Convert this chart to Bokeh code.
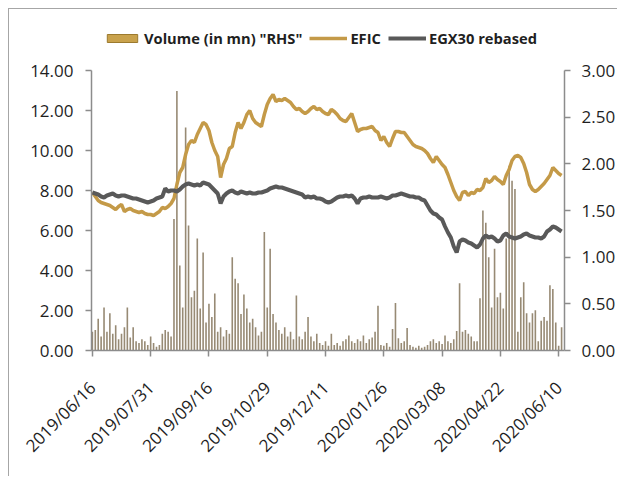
import math
from bokeh.plotting import figure
from bokeh.layouts import column, row
from bokeh.models import (Range1d, LinearAxis, FixedTicker, Legend, LegendItem,
                          ColumnDataSource, NumeralTickFormatter, Spacer)
from bokeh.embed import file_html
from bokeh.resources import INLINE

# ---------------- data (one value per trading-day step) ----------------
efic = [7.90, 7.70, 7.50, 7.40, 7.35, 7.30, 7.25, 7.15, 7.05, 7.20,
        7.30, 6.95, 7.05, 7.10, 7.00, 6.95, 6.90, 6.95, 6.85, 6.80,
        6.80, 6.75, 6.85, 6.95, 7.15, 7.10, 7.20, 7.35, 7.60, 8.30,
        8.90, 9.15, 9.80, 10.30, 10.50, 10.40, 10.80, 11.10, 11.40, 11.30,
        11.00, 10.40, 10.00, 9.70, 8.65, 9.30, 9.60, 10.10, 10.20, 10.90,
        11.40, 11.10, 11.40, 11.80, 12.00, 11.60, 11.40, 11.30, 11.20, 11.80,
        12.30, 12.60, 12.80, 12.45, 12.55, 12.50, 12.60, 12.50, 12.40, 12.20,
        12.05, 12.10, 11.95, 11.85, 11.95, 12.10, 12.20, 12.05, 12.10, 11.95,
        11.85, 11.80, 12.05, 11.95, 11.80, 11.60, 11.50, 11.45, 11.65, 11.85,
        11.40, 10.95, 11.05, 11.10, 11.10, 11.15, 11.20, 11.00, 10.90, 10.50,
        10.70, 10.40, 10.20, 10.60, 10.95, 10.95, 10.90, 10.90, 10.70, 10.50,
        10.30, 10.20, 10.15, 10.10, 10.00, 9.85, 9.60, 9.40, 9.70, 9.50,
        9.30, 9.15, 8.80, 8.40, 8.00, 7.70, 7.50, 7.90, 7.95, 7.75,
        7.90, 7.85, 8.05, 8.00, 8.15, 8.60, 8.40, 8.50, 8.70, 8.55,
        8.45, 8.30, 8.75, 9.05, 9.50, 9.70, 9.75, 9.65, 9.35, 8.90,
        8.30, 8.05, 7.95, 8.05, 8.20, 8.35, 8.55, 8.75, 9.15, 9.00,
        8.85, 8.75]

egx30 = [7.90, 7.85, 7.80, 7.70, 7.65, 7.75, 7.80, 7.85, 7.75, 7.70,
         7.75, 7.75, 7.70, 7.65, 7.60, 7.60, 7.55, 7.50, 7.45, 7.40,
         7.45, 7.50, 7.60, 7.65, 7.70, 8.10, 7.95, 8.00, 8.00, 7.95,
         8.05, 8.20, 8.30, 8.35, 8.30, 8.25, 8.30, 8.25, 8.40, 8.35,
         8.30, 8.15, 8.00, 7.85, 7.35, 7.70, 7.85, 7.95, 8.00, 7.90,
         7.85, 7.95, 7.90, 7.85, 7.90, 7.85, 7.85, 7.90, 7.90, 7.95,
         8.00, 8.10, 8.15, 8.20, 8.15, 8.15, 8.10, 8.05, 8.00, 7.95,
         7.90, 7.85, 7.80, 7.65, 7.70, 7.65, 7.70, 7.60, 7.60, 7.55,
         7.45, 7.40, 7.45, 7.55, 7.65, 7.70, 7.70, 7.75, 7.70, 7.75,
         7.60, 7.35, 7.60, 7.65, 7.65, 7.70, 7.65, 7.65, 7.65, 7.70,
         7.65, 7.60, 7.65, 7.75, 7.75, 7.80, 7.85, 7.80, 7.75, 7.70,
         7.70, 7.65, 7.65, 7.55, 7.50, 7.25, 7.00, 6.85, 6.80, 6.65,
         6.55, 6.20, 5.90, 5.65, 5.20, 4.90, 5.45, 5.55, 5.50, 5.40,
         5.35, 5.25, 5.15, 5.30, 5.60, 5.75, 5.65, 5.70, 5.60, 5.45,
         5.50, 5.75, 5.85, 5.70, 5.65, 5.60, 5.65, 5.70, 5.80, 5.85,
         5.75, 5.70, 5.65, 5.65, 5.60, 5.70, 5.95, 6.05, 6.20, 6.15,
         6.05, 5.95]

volume = [0.20, 0.22, 0.34, 0.15, 0.46, 0.20, 0.40, 0.18, 0.27, 0.12,
          0.18, 0.25, 0.46, 0.14, 0.25, 0.10, 0.08, 0.12, 0.10, 0.06,
          0.15, 0.08, 0.04, 0.06, 0.18, 0.22, 0.20, 0.15, 1.41, 2.78,
          0.91, 0.46, 2.39, 1.34, 0.57, 0.64, 1.20, 0.45, 1.05, 0.30,
          0.50, 0.36, 0.61, 0.20, 0.25, 0.15, 0.22, 0.18, 1.00, 0.77,
          0.72, 0.39, 0.60, 0.45, 0.30, 0.34, 0.25, 0.16, 0.20, 1.27,
          0.46, 1.09, 0.39, 0.30, 0.22, 0.18, 0.25, 0.15, 0.20, 0.12,
          0.59, 0.15, 0.12, 0.20, 0.36, 0.15, 0.10, 0.18, 0.08, 0.06,
          0.10, 0.05, 0.18, 0.06, 0.08, 0.05, 0.10, 0.12, 0.16, 0.10,
          0.08, 0.12, 0.10, 0.16, 0.08, 0.12, 0.14, 0.20, 0.48, 0.06,
          0.05, 0.08, 0.04, 0.23, 0.51, 0.13, 0.08, 0.10, 0.24, 0.06,
          0.04, 0.03, 0.05, 0.03, 0.04, 0.06, 0.10, 0.12, 0.08, 0.10,
          0.07, 0.16, 0.10, 0.08, 0.12, 0.21, 0.72, 0.20, 0.22, 0.18,
          0.15, 0.10, 0.10, 0.56, 1.50, 1.37, 1.00, 0.46, 1.09, 0.57,
          0.62, 0.45, 1.20, 1.98, 1.82, 1.73, 0.20, 0.57, 0.73, 0.40,
          0.30, 0.40, 0.43, 0.10, 0.32, 0.36, 0.32, 0.70, 0.66, 0.30,
          0.05, 0.25]

date_labels = ["2019/06/16", "2019/07/31", "2019/09/16", "2019/10/29",
               "2019/12/11", "2020/01/26", "2020/03/08", "2020/04/22",
               "2020/06/10"]
label_step = 20
left_ticks = [0, 2, 4, 6, 8, 10, 12, 14]
right_ticks = [0, 0.5, 1.0, 1.5, 2.0, 2.5, 3.0]

# ---------------- figure ----------------
idx = list(range(len(efic)))
src = ColumnDataSource(dict(idx=idx, efic=efic, egx=egx30, vol=volume))

FONT = "Open Sans"
AX = "#8c8c8c"
TXT = "#1f1f1f"

# frame extends above the axes' top value (14 / 3) so the legend can sit inside it
LEFT_MAX, RIGHT_MAX = 14, 3
HEAD = 330 / 280  # extra head-room factor of the frame over the axis span

p = figure(width=609, height=468, x_range=Range1d(-0.3, 162),
           y_range=Range1d(0, LEFT_MAX * HEAD),
           output_backend="svg", toolbar_location=None,
           min_border_left=82, min_border_right=51, min_border_top=11, min_border_bottom=127,
           outline_line_color=None, background_fill_color="white", border_fill_color="white")
p.extra_y_ranges = {"vol": Range1d(0, RIGHT_MAX * HEAD)}
p.grid.visible = False
p.styles = {"border-left": "1px solid #a6a6a6", "border-top": "1px solid #a6a6a6"}

vol_r = p.vbar(x="idx", top="vol", width=0.55, source=src, y_range_name="vol",
               fill_color="#978a74", line_color=None)
efic_r = p.line("idx", "efic", source=src, line_color="#C49A48", line_width=3.5)
egx_r = p.line("idx", "egx", source=src, line_color="#595959", line_width=4)

# legend-only swatch for the volume bars (golden bar as in the original legend);
# its single point is NaN so nothing is drawn in the plot itself
nan = float("nan")
leg_src = ColumnDataSource(dict(x=[nan], top=[nan]))
vol_leg = p.vbar(x="x", top="top", width=0.5, source=leg_src, y_range_name="vol",
                 fill_color="#C9A24C", line_color="#9c7a2e", line_width=1)

legend = Legend(items=[LegendItem(label='Volume (in mn) "RHS"', renderers=[vol_leg]),
                       LegendItem(label="EFIC", renderers=[efic_r]),
                       LegendItem(label="EGX30 rebased", renderers=[egx_r])],
                orientation="horizontal", location=(12, 302),
                padding=0, margin=0, spacing=7, label_standoff=3,
                glyph_width=38, glyph_height=10,
                label_text_font=FONT, label_text_font_size="14.7px",
                label_text_font_style="bold", label_text_color=TXT,
                background_fill_alpha=0, border_line_alpha=0)
p.add_layout(legend)

def style_axis(ax):
    ax.axis_line_color = AX
    ax.axis_line_width = 1.5
    ax.major_tick_line_color = AX
    ax.major_tick_line_width = 1.5
    ax.major_tick_in = 0
    ax.major_tick_out = 6
    ax.minor_tick_in = 0
    ax.minor_tick_out = 0
    ax.major_label_text_font = FONT
    ax.major_label_text_font_size = "17px"
    ax.major_label_text_color = TXT

ly = p.yaxis[0]
style_axis(ly)
ly.ticker = FixedTicker(ticks=left_ticks)
ly.formatter = NumeralTickFormatter(format="0.00")
ly.bounds = (0, LEFT_MAX)
ly.major_label_standoff = 12

ry = LinearAxis(y_range_name="vol", ticker=FixedTicker(ticks=right_ticks),
                formatter=NumeralTickFormatter(format="0.00"), bounds=(0, RIGHT_MAX))
style_axis(ry)
ry.major_label_standoff = 11
p.add_layout(ry, "right")

xa = p.xaxis[0]
style_axis(xa)
tick_pos = [i * label_step for i in range(len(date_labels))]
xa.ticker = FixedTicker(ticks=tick_pos)
xa.major_label_overrides = {t: lab for t, lab in zip(tick_pos, date_labels)}
xa.major_label_orientation = math.pi / 4
xa.major_label_standoff = 28

layout = column(Spacer(height=8), row(Spacer(width=8), p))
open("out.html", "w").write(file_html(layout, INLINE))
